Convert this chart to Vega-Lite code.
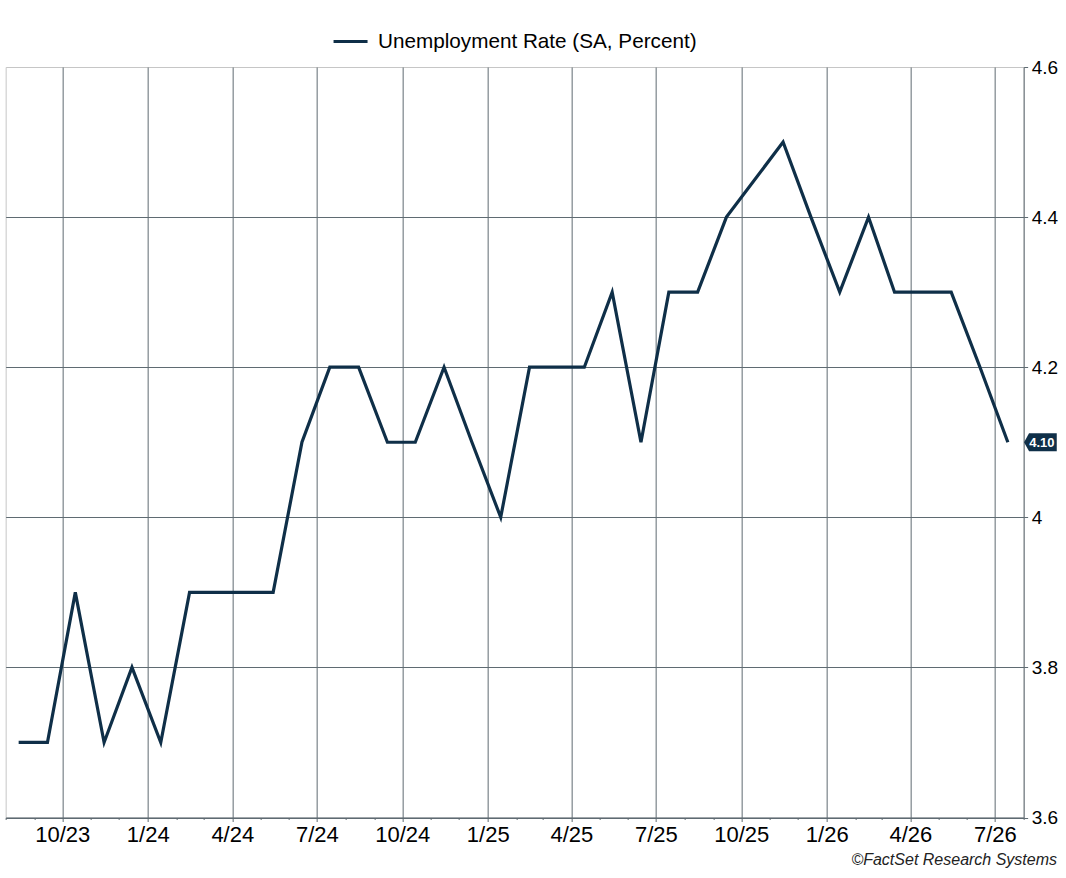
{
  "$schema": "https://vega.github.io/schema/vega-lite/v6.json",
  "width": 1018,
  "height": 750.5,
  "autosize": "none",
  "padding": {"left": 5.65, "top": 67, "right": 42.35, "bottom": 60.5},
  "background": "white",
  "title": {
    "text": "©FactSet Research Systems",
    "orient": "bottom",
    "anchor": "end",
    "frame": "group",
    "font": "Liberation Sans",
    "fontSize": 16,
    "fontStyle": "italic",
    "fontWeight": "normal",
    "color": "#222222",
    "dx": 33.4,
    "offset": 7
  },
  "config": {
    "font": "Liberation Sans",
    "view": {"stroke": "#c6c6c6", "strokeWidth": 1},
    "axis": {
      "domainColor": "#5f6b72",
      "tickColor": "#5f6b72",
      "gridColor": "#5f6b72",
      "labelColor": "#000000",
      "labelFont": "Liberation Sans"
    }
  },
  "data": {
    "values": [
      {"date": "2023-08-15", "rate": 3.7},
      {"date": "2023-09-15", "rate": 3.7},
      {"date": "2023-10-15", "rate": 3.9},
      {"date": "2023-11-15", "rate": 3.7},
      {"date": "2023-12-15", "rate": 3.8},
      {"date": "2024-01-15", "rate": 3.7},
      {"date": "2024-02-15", "rate": 3.9},
      {"date": "2024-03-15", "rate": 3.9},
      {"date": "2024-04-15", "rate": 3.9},
      {"date": "2024-05-15", "rate": 3.9},
      {"date": "2024-06-15", "rate": 4.1},
      {"date": "2024-07-15", "rate": 4.2},
      {"date": "2024-08-15", "rate": 4.2},
      {"date": "2024-09-15", "rate": 4.1},
      {"date": "2024-10-15", "rate": 4.1},
      {"date": "2024-11-15", "rate": 4.2},
      {"date": "2024-12-15", "rate": 4.1},
      {"date": "2025-01-15", "rate": 4.0},
      {"date": "2025-02-15", "rate": 4.2},
      {"date": "2025-03-15", "rate": 4.2},
      {"date": "2025-04-15", "rate": 4.2},
      {"date": "2025-05-15", "rate": 4.3},
      {"date": "2025-06-15", "rate": 4.1},
      {"date": "2025-07-15", "rate": 4.3},
      {"date": "2025-08-15", "rate": 4.3},
      {"date": "2025-09-15", "rate": 4.4},
      {"date": "2025-11-15", "rate": 4.5},
      {"date": "2025-12-15", "rate": 4.4},
      {"date": "2026-01-15", "rate": 4.3},
      {"date": "2026-02-15", "rate": 4.4},
      {"date": "2026-03-15", "rate": 4.3},
      {"date": "2026-04-15", "rate": 4.3},
      {"date": "2026-05-15", "rate": 4.3},
      {"date": "2026-06-15", "rate": 4.2},
      {"date": "2026-07-15", "rate": 4.1}
    ]
  },
  "encoding": {
    "x": {
      "field": "date",
      "type": "temporal",
      "scale": {
        "type": "utc",
        "domain": [
          {"year": 2023, "month": 8, "date": 1, "utc": true},
          {"year": 2026, "month": 8, "date": 1, "utc": true}
        ]
      },
      "axis": {
        "title": null,
        "orient": "bottom",
        "tickCount": {"interval": "month", "step": 1},
        "labelExpr": "utcmonth(datum.value) % 3 == 0 ? utcFormat(datum.value, '%-m/%y') : ''",
        "gridOpacity": {"condition": {"test": "utcmonth(datum.value) % 3 == 0", "value": 1}, "value": 0},
        "tickSize": {"condition": {"test": "utcmonth(datum.value) % 3 == 0", "value": 4}, "value": 2},
        "labelFontSize": 22,
        "labelPadding": 2.5,
        "labelOverlap": false,
        "labelFlush": false,
        "labelBound": false
      }
    },
    "y": {
      "field": "rate",
      "type": "quantitative",
      "scale": {"domain": [3.6, 4.6], "nice": false, "zero": false},
      "axis": {
        "title": null,
        "orient": "right",
        "values": [3.6, 3.8, 4.0, 4.2, 4.4, 4.6],
        "format": ".1~f",
        "labelFontSize": 19,
        "labelPadding": 3.5,
        "tickSize": 4,
        "gridOpacity": {"condition": {"test": "datum.value > 4.59", "value": 0}, "value": 1},
        "labelFlush": false,
        "labelBound": false
      }
    }
  },
  "layer": [
    {
      "mark": {"type": "line", "strokeWidth": 3.2},
      "encoding": {
        "color": {
          "datum": "Unemployment Rate (SA, Percent)",
          "type": "nominal",
          "scale": {"range": ["#0f2f48"]},
          "legend": {
            "title": null,
            "orient": "none",
            "legendX": 326.4,
            "legendY": -44,
            "padding": 0,
            "symbolType": "stroke",
            "symbolSize": 1156,
            "symbolStrokeWidth": 3,
            "labelFontSize": 20.7,
            "labelOffset": 9,
            "labelColor": "#000000",
            "labelFont": "Liberation Sans",
            "labelLimit": 600
          }
        }
      }
    },
    {
      "data": {"values": [{"date": "2026-07-15", "rate": 4.1}]},
      "mark": {
        "type": "point",
        "shape": "M1.62,0 L2.12,-0.9 L4.89,-0.9 L4.89,0.9 L2.12,0.9 Z",
        "size": 400,
        "filled": true,
        "opacity": 1,
        "strokeWidth": 0,
        "color": "#0f2f48"
      }
    },
    {
      "data": {"values": [{"date": "2026-07-15", "rate": 4.1}]},
      "mark": {
        "type": "text",
        "dx": 34,
        "dy": 0.5,
        "align": "center",
        "baseline": "middle",
        "fontSize": 13,
        "fontWeight": "bold",
        "color": "#ffffff"
      },
      "encoding": {
        "text": {"field": "rate", "type": "quantitative", "format": ".2f"}
      }
    }
  ]
}
